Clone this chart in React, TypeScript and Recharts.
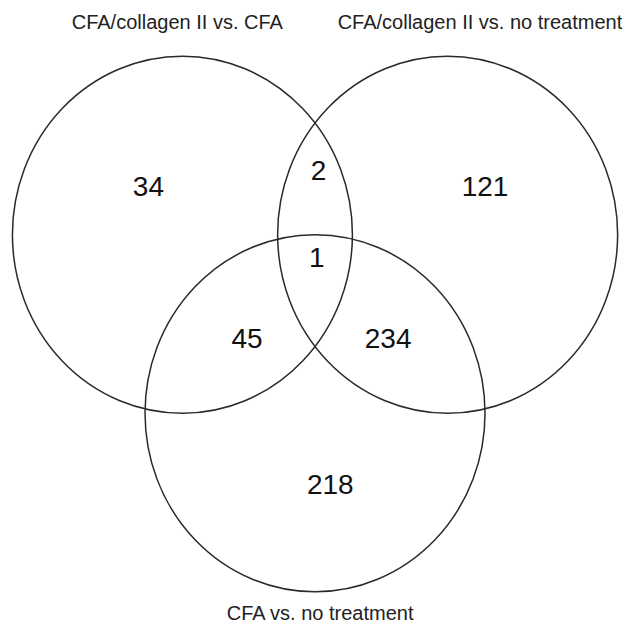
import React from 'react'
import { ScatterChart, Scatter, XAxis, YAxis } from 'recharts'

// set names + circle centres / radii in "radius units"
const setNames = ['CFA/collagen II vs. CFA', 'CFA/collagen II vs. no treatment', 'CFA vs. no treatment']
const circleX = [-0.78, 0.78, 0]
const circleY = [0.5, 0.5, -0.5]
const circleR = [1, 1, 1]
const nameX = [-0.81, 0.97, 0.03]
const nameY = [1.69, 1.69, -1.62]

// region counts
const regionLabels = ['34', '2', '121', '1', '45', '234', '218']
const regionX = [-0.98, 0.02, 1.0, 0.01, -0.4, 0.43, 0.09]
const regionY = [0.77, 0.86, 0.77, 0.37, -0.08, -0.08, -0.9]

const W = 636
const H = 630
const X_DOMAIN: [number, number] = [-1.853, 1.888]
const Y_DOMAIN: [number, number] = [-1.714, 1.815]
const KX = W / (X_DOMAIN[1] - X_DOMAIN[0])
const KY = H / (Y_DOMAIN[1] - Y_DOMAIN[0])

const FONT = 'Arial, "Liberation Sans", sans-serif'

const circles = circleX.map((x, i) => ({ x, y: circleY[i], r: circleR[i] }))
const names = setNames.map((name, i) => ({ x: nameX[i], y: nameY[i], name }))
const regions = regionLabels.map((label, i) => ({ x: regionX[i], y: regionY[i], label }))

const CircleShape = (p: any) => (
  <ellipse
    cx={p.cx}
    cy={p.cy}
    rx={p.payload.r * KX}
    ry={p.payload.r * KY}
    fill="none"
    stroke="#2a2a2a"
    strokeWidth={1.5}
  />
)

const NameShape = (p: any) => (
  <text x={p.cx} y={p.cy} textAnchor="middle" dominantBaseline="central"
    fontFamily={FONT} fontSize={20} fill="#222">
    {p.payload.name}
  </text>
)

const RegionShape = (p: any) => (
  <text x={p.cx} y={p.cy} textAnchor="middle" dominantBaseline="central"
    fontFamily={FONT} fontSize={28} fill="#111">
    {p.payload.label}
  </text>
)

export default function App() {
  return (
    <div style={{ position: 'absolute', left: 0, top: 0, background: '#fff' }}>
      <ScatterChart width={W} height={H} margin={{ top: 0, right: 0, bottom: 0, left: 0 }}>
        <XAxis type="number" dataKey="x" domain={X_DOMAIN} hide allowDataOverflow />
        <YAxis type="number" dataKey="y" domain={Y_DOMAIN} hide allowDataOverflow width={0} />
        <Scatter data={circles} shape={CircleShape} isAnimationActive={false} />
        <Scatter data={regions} shape={RegionShape} isAnimationActive={false} />
        <Scatter data={names} shape={NameShape} isAnimationActive={false} />
      </ScatterChart>
    </div>
  )
}
